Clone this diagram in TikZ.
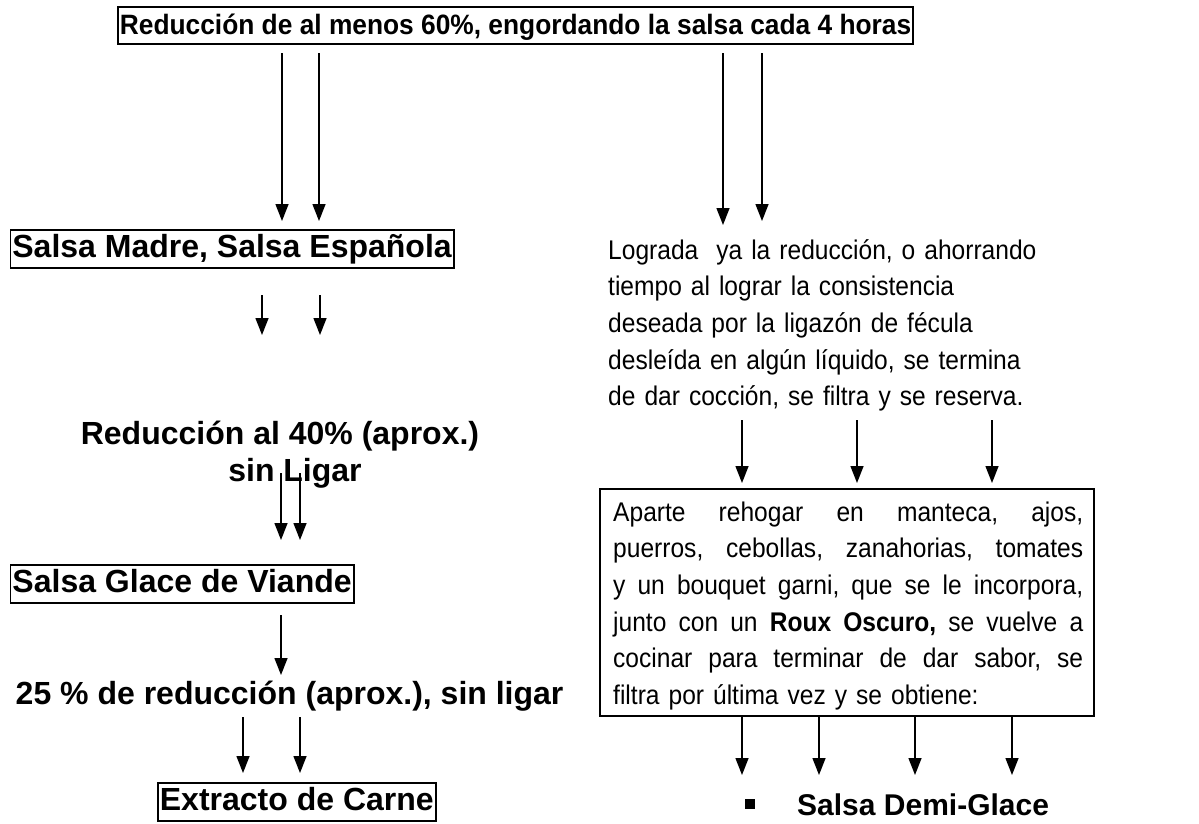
\documentclass[tikz,border=0pt]{standalone}
\usepackage{fontspec}
\setmainfont{Liberation Sans}[Ligatures=NoCommon]
\newfontfamily\titlefont{Liberation Sans}[Ligatures=NoCommon, FakeStretch=0.94]
\newfontfamily\narrowfont{Liberation Sans}[Ligatures=NoCommon, FakeStretch=0.91]
\newcommand\jline[1]{\leavevmode\hbox to 470pt{#1}}
\newcommand\gap{\hspace{0pt plus 1fill}\ }
\usetikzlibrary{arrows.meta}
\begin{document}
\begin{tikzpicture}[x=1pt,y=-1pt,
  every node/.style={font=\fontsize{32}{36.8}\selectfont, inner sep=0pt},
  bbox/.style={draw, line width=1.8pt, font=\fontsize{32}{36.8}\selectfont\bfseries,
    text height=23.5pt, text depth=7pt, inner xsep=2pt, inner ysep=3.75pt},
  btext/.style={font=\fontsize{32}{36.8}\selectfont\bfseries, anchor=base},
  ntext/.style={font=\narrowfont\fontsize{27}{36.7}\selectfont, anchor=base west, align=left},
  arr/.style={-{Triangle[width=13pt,length=17pt]}, line width=1.4pt},
]
\useasboundingbox (0,0) rectangle (1199,823);

% boxes and texts
\node[bbox, anchor=west, font=\titlefont\fontsize{28}{34}\selectfont\bfseries,
      text height=23pt, text depth=6pt, inner ysep=4.25pt] (title) at (117,25.5)
  {Reducción de al menos 60\%, engordando la salsa cada 4 horas};
\node[bbox, anchor=west] (madre) at (9.5,249) {Salsa Madre, Salsa Española};
\node[btext] (red40) at (280,444) {Reducción al 40\% (aprox.)};
\node[btext] (sinligar) at (295,481) {sin Ligar};
\node[bbox, anchor=west] (glace) at (9.6,584) {Salsa Glace de Viande};
\node[btext] (r25) at (289.6,704) {25 \% de reducción (aprox.), sin ligar};
\node[bbox, anchor=west] (extracto) at (157,802) {Extracto de Carne};

\node[ntext, text width=480pt] (lograda) at (608,259)
  {Lograda\ \ ya la reducción, o ahorrando\\
   tiempo al lograr la consistencia\\
   deseada por la ligazón de fécula\\
   desleída en algún líquido, se termina\\
   de dar cocción, se filtra y se reserva.};

\node[draw, line width=1.8pt, minimum width=494pt, minimum height=227pt, anchor=north west] (box) at (599,488) {};
\node[ntext, text width=470pt] (boxtext) at (613,521)
  {\jline{Aparte\gap rehogar\gap en\gap manteca,\gap ajos,}\\
   \jline{puerros,\gap cebollas,\gap zanahorias,\gap tomates}\\
   \jline{y\gap un\gap bouquet\gap garni,\gap que\gap se\gap le\gap incorpora,}\\
   \jline{junto\gap con\gap un\gap \textbf{Roux}\gap \textbf{Oscuro,}\gap se\gap vuelve\gap a}\\
   \jline{cocinar\gap para\gap terminar\gap de\gap dar\gap sabor,\gap se}\\
   filtra por última vez y se obtiene:};

\node[fill, minimum size=10pt, inner sep=0pt] (bullet) at (750,804) {};
\node[anchor=base west, font=\fontsize{30}{36}\selectfont\bfseries] (demi) at (797,815) {Salsa Demi-Glace};

% connector end points
\coordinate (ta) at (282,53);  \coordinate (tae) at (282,221);
\coordinate (tb) at (319,53);  \coordinate (tbe) at (319,221);
\coordinate (tc) at (723,53);  \coordinate (tce) at (723,225);
\coordinate (td) at (762,53);  \coordinate (tde) at (762,221);
\coordinate (ma) at (262,295); \coordinate (mae) at (262,335);
\coordinate (mb) at (320,295); \coordinate (mbe) at (320,335);
\coordinate (sa) at (281,473); \coordinate (sae) at (281,540);
\coordinate (sb) at (300,473); \coordinate (sbe) at (300,540);
\coordinate (ga) at (281,615); \coordinate (gae) at (281,675);
\coordinate (ra) at (243,717); \coordinate (rae) at (243,773);
\coordinate (rb) at (300,717); \coordinate (rbe) at (300,773);
\coordinate (la) at (742,420); \coordinate (lae) at (742,483);
\coordinate (lb) at (857,420); \coordinate (lbe) at (857,483);
\coordinate (lc) at (992,420); \coordinate (lce) at (992,483);
\coordinate (ba) at (742,715); \coordinate (bae) at (742,775);
\coordinate (bb) at (819,715); \coordinate (bbe) at (819,775);
\coordinate (bc) at (915,715); \coordinate (bce) at (915,775);
\coordinate (bd) at (1012,715); \coordinate (bde) at (1012,775);

\foreach \s/\e in {ta/tae,tb/tbe,tc/tce,td/tde,ma/mae,mb/mbe,sa/sae,sb/sbe,ga/gae,
                   ra/rae,rb/rbe,la/lae,lb/lbe,lc/lce,ba/bae,bb/bbe,bc/bce,bd/bde}
  \draw[arr] (\s) -- (\e);
\end{tikzpicture}
\end{document}
